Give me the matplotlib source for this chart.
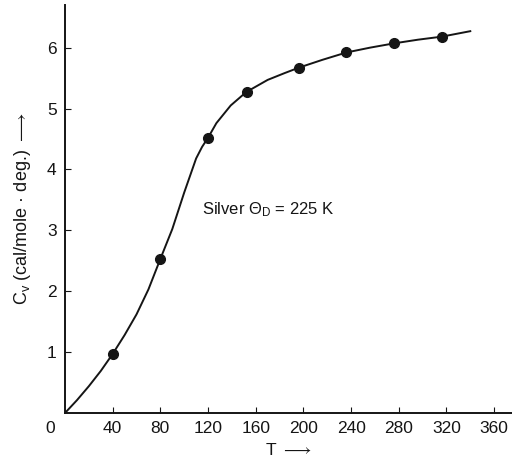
import matplotlib
matplotlib.use('Agg')
import matplotlib.pyplot as plt

# measured points (T in K, Cv in cal/mole.deg)
point_T = [40, 80, 120, 153, 196, 236, 276, 316]
point_cv = [0.97, 2.53, 4.52, 5.27, 5.67, 5.92, 6.07, 6.18]

# curve
curve_T = [0, 10, 20, 30, 40, 50, 60, 70, 80, 90, 100, 110, 115, 120,
		   127, 139, 152, 170, 184, 196, 216, 236, 256, 276, 296, 316, 340]
curve_cv = [0, 0.21, 0.44, 0.69, 0.97, 1.28, 1.62, 2.03, 2.53, 3.02, 3.62, 4.18, 4.37, 4.52,
			4.76, 5.05, 5.27, 5.47, 5.58, 5.67, 5.80, 5.92, 6.00, 6.07, 6.13, 6.18, 6.27]

x_ticks = [40, 80, 120, 160, 200, 240, 280, 320, 360]
y_ticks = [1, 2, 3, 4, 5, 6]


def main():
	plt.rcParams['font.family'] = ['Liberation Sans', 'DejaVu Sans']
	plt.rcParams['mathtext.fontset'] = 'custom'
	plt.rcParams['mathtext.rm'] = 'Liberation Sans'
	plt.rcParams['mathtext.it'] = 'Liberation Sans:italic'
	ink = '#151515'

	fig = plt.figure(figsize=(5.12, 4.68), dpi=100)
	ax = fig.add_axes([65 / 512, 55 / 468, 447 / 512, 408 / 468])

	ax.plot(curve_T, curve_cv, color=ink, lw=1.4, solid_joinstyle='round')
	ax.plot(point_T, point_cv, 'o', color=ink, ms=7)

	ax.set_xlim(0, 375)
	ax.set_ylim(0, 6.7)
	ax.set_xticks(x_ticks)
	ax.set_yticks(y_ticks)
	ax.tick_params(direction='in', length=4, width=0.8, colors=ink, labelsize=12.5, pad=6)
	for s in ['top', 'right']:
		ax.spines[s].set_visible(False)
	for s in ['left', 'bottom']:
		ax.spines[s].set_color(ink)
		ax.spines[s].set_linewidth(1.4)

	ax.text(-0.022, -0.02, '0', transform=ax.transAxes, ha='right', va='top',
			fontsize=12.5, color=ink)

	ax.set_ylabel('C$_\\mathrm{v}$ (cal/mole · deg.) $\\longrightarrow$', fontsize=13, color=ink, labelpad=10)
	ax.set_xlabel('T $\\longrightarrow$', fontsize=12.5, color=ink, labelpad=4)

	ax.text(115, 3.34, 'Silver Θ$_\\mathrm{D}$ = 225 K', fontsize=12, color=ink, va='center')

	fig.savefig('out.png', dpi=100)


if __name__ == '__main__':
	main()
